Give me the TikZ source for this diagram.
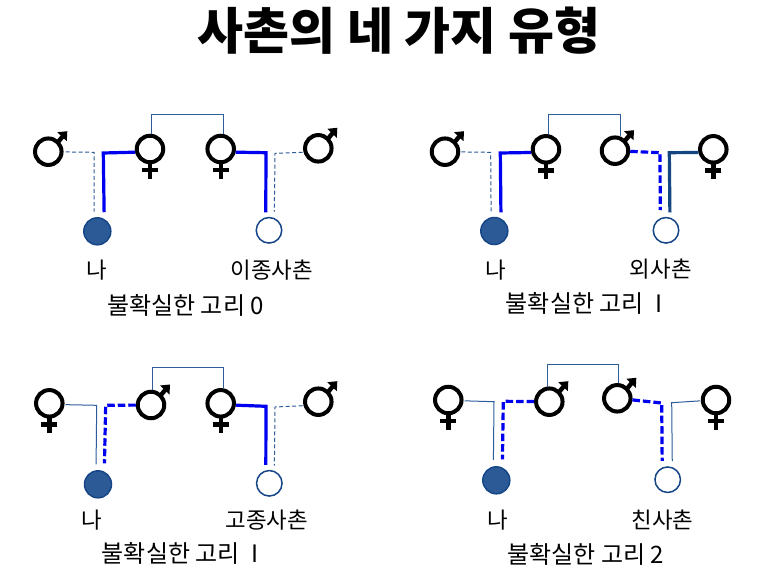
\documentclass[tikz,border=0pt]{standalone}
\usepackage{fontspec}
\setmainfont{Noto Sans CJK KR}
\definecolor{linkColor}{RGB}{47, 92, 154}
\definecolor{meColor}{RGB}{44, 90, 150}
\definecolor{edgeColor}{RGB}{22, 70, 135}
\definecolor{strongColor}{RGB}{0, 0, 240}
\definecolor{darkColor}{RGB}{20, 70, 130}
\tikzset{
    signcircle/.style={circle, draw=black, line width=4pt, minimum size=26.5pt, inner sep=0pt},
    signline/.style={black, line width=4.4pt},
    melink/.style={circle, draw=edgeColor, fill=meColor, line width=1.5pt, minimum size=27pt, inner sep=0pt},
    cousinlink/.style={circle, draw=edgeColor, fill=white, line width=1.5pt, minimum size=25.5pt, inner sep=0pt},
    siblink/.style={linkColor, line width=1pt},
    thinlink/.style={linkColor, line width=1pt},
    thindash/.style={linkColor, line width=1pt, dash pattern=on 4pt off 2.5pt},
    stronglink/.style={strongColor, line width=3.2pt},
    strongdash/.style={strongColor, line width=3.2pt, dash pattern=on 7.5pt off 3pt},
    darklink/.style={darkColor, line width=3.2pt},
    label/.style={font=\fontsize{22.4}{25}\selectfont, inner sep=0pt},
    caption/.style={font=\fontsize{24}{27}\selectfont, inner sep=0pt},
}
\newcommand{\malesign}[3]{
    \node[signcircle] (#1) at (#2,#3) {};
    \draw[signline] ([shift={(10,-10)}]#1.center) -- ([shift={(15,-16)}]#1.center);
    \fill[black] ([shift={(19,-20.5)}]#1.center) -- ([shift={(9,-19.5)}]#1.center) -- ([shift={(18.5,-10.5)}]#1.center) -- cycle;
}
\newcommand{\femalesign}[3]{
    \node[signcircle] (#1) at (#2,#3) {};
    \draw[signline] ([shift={(0,14)}]#1.center) -- ([shift={(0,29.5)}]#1.center);
    \draw[signline] ([shift={(-8,21)}]#1.center) -- ([shift={(8,21)}]#1.center);
}

\begin{document}
\begin{tikzpicture}[x=1pt, y=-1pt]
    \fill[white] (0,0) rectangle (768,568);
    \useasboundingbox (0,0) rectangle (768,568);
    \node[inner sep=0pt, font=\fontsize{50}{56}\selectfont\bfseries] (title) at (399,31) {사촌의 네 가지 유형};

    % top left
    \malesign{aM}{48.3}{151.7}
    \femalesign{aF}{150}{149}
    \femalesign{aG}{220.7}{149}
    \malesign{aH}{318.3}{148.3}
    \node[melink] (aMe) at (97.3,231.3) {};
    \node[cousinlink] (aCo) at (269,230.3) {};
    \coordinate (aP) at (94,152.3);
    \coordinate (aQ) at (103.3,153);
    \coordinate (aR) at (266,152.7);
    \coordinate (aS) at (275,153.3);
    \draw[siblink] (aF.85) -- ++(0,-19) -| (aG.80);
    \draw[thindash, shorten <=2pt, shorten >=5.7pt] (aM) -- (aP) -- (aMe.103);
    \draw[stronglink, shorten >=6.6pt] (aF.192) -- (aQ) -- (aMe.61);
    \draw[stronglink, shorten >=4.9pt] (aG.-12) -- (aR) -- (aCo.104);
    \draw[thindash, shorten <=1pt, shorten >=6.2pt] (aH.195) -- (aS) -- (aCo.67);
    \node[label] (aMeName) at (97.3,270) {나};
    \node[label] (aCoName) at (271.7,270) {이종사촌};
    \node[caption] (aText) at (185.5,305) {불확실한 고리 0};

    % top right
    \malesign{bM}{445}{151.7}
    \femalesign{bF}{546}{149.3}
    \malesign{bG}{615}{150.7}
    \femalesign{bH}{713.3}{149.3}
    \node[melink] (bMe) at (494.3,231) {};
    \node[cousinlink] (bCo) at (666,230.3) {};
    \coordinate (bP) at (490.7,152.3);
    \coordinate (bQ) at (500.3,153);
    \coordinate (bR) at (660,152.7);
    \coordinate (bS) at (669.3,152.7);
    \draw[siblink] (bF.80) -- ++(0,-19.5) -| (bG.70);
    \draw[thindash, shorten <=1pt, shorten >=5.4pt] (bM) -- (bP) -- (bMe.103);
    \draw[stronglink, shorten >=6.1pt] (bF.192) -- (bQ) -- (bMe.62);
    \draw[strongdash, shorten >=8pt] (bG) -- (bR) -- (bCo.115);
    \draw[darklink, shorten >=5.1pt] (bH.192) -- (bS) -- (bCo.73);
    \node[label] (bMeName) at (495.3,270) {나};
    \node[label] (bCoName) at (660.7,269) {외사촌};
    \node[caption] (bText) at (584,303) {불확실한 고리\hspace{0.25em} I};

    % bottom left
    \femalesign{cM}{49.3}{403.3}
    \malesign{cF}{151}{405}
    \femalesign{cG}{220.7}{403.3}
    \malesign{cH}{318.3}{401.7}
    \node[melink] (cMe) at (98,484.3) {};
    \node[cousinlink] (cCo) at (269.3,483.3) {};
    \coordinate (cP) at (96.7,405.3);
    \coordinate (cQ) at (105.7,405.3);
    \coordinate (cR) at (266,406.3);
    \coordinate (cS) at (275,407);
    \draw[siblink] (cF.85) -- ++(0,-22) -| (cG.80);
    \draw[thinlink, shorten <=1pt, shorten >=5.9pt] (cM.-5) -- (cP) -- (cMe.98);
    \draw[strongdash, shorten >=8.2pt] (cF) -- (cQ) -- (cMe.64);
    \draw[stronglink, shorten >=5.3pt] (cG.-7) -- (cR) -- (cCo.105);
    \draw[thindash, shorten <=1pt, shorten >=5.1pt] (cH.195) -- (cS) -- (cCo.68);
    \node[label] (cMeName) at (92.3,520) {나};
    \node[label] (cCoName) at (266.7,520) {고종사촌};
    \node[caption] (cText) at (180,553.3) {불확실한 고리\hspace{0.25em} I};

    % bottom right
    \femalesign{dM}{448.3}{400}
    \malesign{dF}{549.3}{401.7}
    \malesign{dG}{617.3}{398.3}
    \femalesign{dH}{716}{400}
    \node[melink] (dMe) at (496.3,480.3) {};
    \node[cousinlink] (dCo) at (667.7,479.7) {};
    \coordinate (dP) at (494,401.7);
    \coordinate (dQ) at (503.3,401.3);
    \coordinate (dR) at (661.7,403);
    \coordinate (dS) at (671.7,402.7);
    \draw[siblink] (dF.95) -- ++(0,-22.5) -| (dG.85);
    \draw[thinlink, shorten <=1pt, shorten >=6.4pt] (dM.-3) -- (dP) -- (dMe.102);
    \draw[strongdash, shorten >=8.1pt] (dF) -- (dQ) -- (dMe.65);
    \draw[strongdash, shorten >=6.6pt] (dG) -- (dR) -- (dCo.114);
    \draw[thinlink, shorten <=1pt, shorten >=6pt] (dH.183) -- (dS) -- (dCo.70);
    \node[label] (dMeName) at (497.3,520) {나};
    \node[label] (dCoName) at (662.3,520) {친사촌};
    \node[caption] (dText) at (585.7,554) {불확실한 고리 2};
\end{tikzpicture}
\end{document}
